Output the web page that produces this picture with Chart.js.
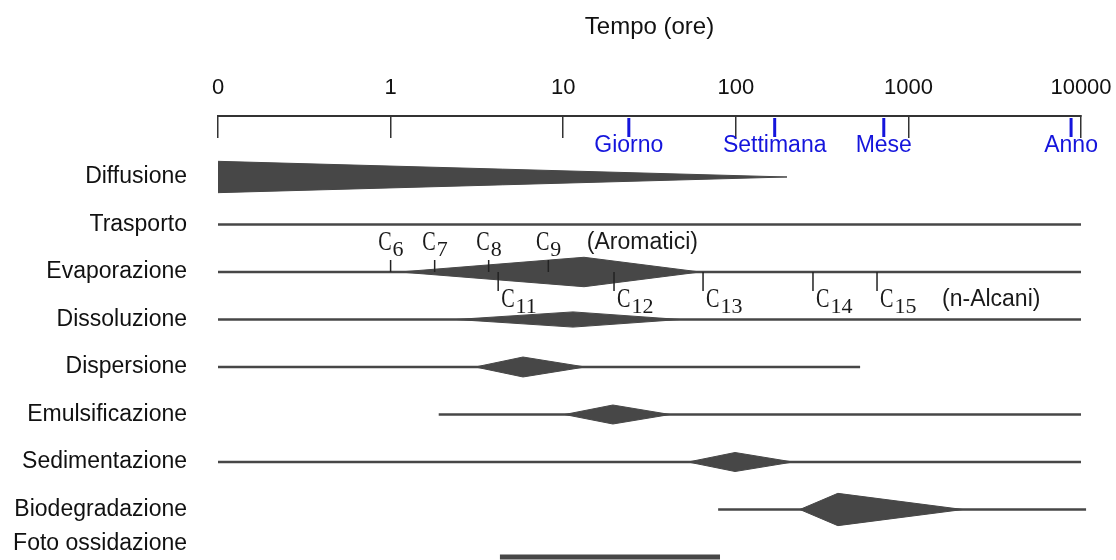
<!DOCTYPE html>
<html>
<head>
<meta charset="utf-8">
<script src="https://cdn.jsdelivr.net/npm/chart.js@4.4.1/dist/chart.umd.min.js"></script>
<style>
  html, body { margin: 0; padding: 0; background: #fff; }
  #wrap { width: 1116px; height: 560px; }
</style>
</head>
<body>
<div id="wrap"><canvas id="chart"></canvas></div>
<script>
// Processi che agiscono su una chiazza di petrolio, tempi in ore (scala log)
const processes = ['Diffusione', 'Trasporto', 'Evaporazione', 'Dissoluzione', 'Dispersione',
  'Emulsificazione', 'Sedimentazione', 'Biodegradazione', 'Foto ossidazione'];

const tickHours = [0.1, 1, 10, 100, 1000, 10000];
const tickLabels = ['0', '1', '10', '100', '1000', '10000'];

const markerHours = [24, 168, 720, 8760];
const markerLabels = ['Giorno', 'Settimana', 'Mese', 'Anno'];

// durata complessiva del processo
const lineStart = [null, 0.1, 0.1, 0.1, 0.1, 1.9, 0.1, 79, 4.3];
const lineEnd = [null, 10000, 10000, 10000, 525, 10000, 10000, 10700, 81];

// fase di massima intensità (fuso)
const peakStart = [0.1, null, 1.13, 2.4, 3.1, 10.2, 53, 235, null];
const peakTime = [0.1, null, 13.2, 11.4, 5.85, 19.4, 99, 390, null];
const peakEnd = [198, null, 62, 47.5, 13.4, 41.6, 214, 2070, null];
const peakIntensity = [0.33, null, 0.31, 0.16, 0.21, 0.2, 0.2, 0.34, null];

// numeri di atomi di carbonio evaporati
const aromaticHours = [1, 1.8, 3.7, 8.2];
const aromaticLabels = ['6', '7', '8', '9'];
const alkaneHours = [4.2, 19.7, 64.6, 280, 658];
const alkaneLabels = ['11', '12', '13', '14', '15'];
const aromaticNoteHour = 13.7;
const alkaneNoteHour = 1566;

const INK = '#474747';
const BLUE = '#1515dc';
const SANS = '"Liberation Sans", Arial, Helvetica, sans-serif';
const SERIF = '"Liberation Serif", "Times New Roman", serif';
Chart.defaults.font.family = SANS;

const evapRow = processes.indexOf('Evaporazione');

const datasets = [];
processes.forEach((name, i) => {
  if (lineStart[i] !== null) {
    datasets.push({
      label: name,
      data: [{ x: lineStart[i], y: i }, { x: lineEnd[i], y: i }],
      borderColor: INK,
      borderWidth: i === processes.length - 1 ? 5 : 2.5,
      showLine: true,
      fill: false,
      clip: false
    });
  }
  if (peakTime[i] !== null) {
    const w = peakIntensity[i];
    const edge = (sign) => {
      const pts = [];
      if (peakStart[i] < peakTime[i]) pts.push({ x: peakStart[i], y: i });
      pts.push({ x: peakTime[i], y: i + sign * w });
      pts.push({ x: peakEnd[i], y: i });
      return pts;
    };
    datasets.push({
      label: name + ' max',
      data: edge(-1),
      borderColor: INK,
      borderWidth: 1,
      backgroundColor: INK,
      showLine: true,
      fill: '+1',
      clip: false
    });
    datasets.push({
      label: name + ' min',
      data: edge(1),
      borderColor: INK,
      borderWidth: 1,
      showLine: true,
      fill: false,
      clip: false
    });
  }
});

// "C" + pedice
function drawCarbon(ctx, px, baseline, sub, above) {
  ctx.save();
  ctx.font = '28px ' + SERIF;
  const cw = ctx.measureText('C').width * 0.72;
  const left = above ? px - cw + 1 : px + 3;
  ctx.translate(left, baseline);
  ctx.scale(0.72, 1);
  ctx.textAlign = 'left';
  ctx.textBaseline = 'alphabetic';
  ctx.fillText('C', 0, 0);
  ctx.restore();
  ctx.save();
  ctx.font = '22px ' + SERIF;
  ctx.textAlign = 'left';
  ctx.textBaseline = 'alphabetic';
  ctx.fillText(sub, left + cw + 1, baseline + 6);
  ctx.restore();
}

const annotations = {
  id: 'annotations',
  afterDatasetsDraw(chart) {
    const { ctx, chartArea, scales: { x, y } } = chart;
    ctx.save();

    // Giorno / Settimana / Mese / Anno
    ctx.strokeStyle = BLUE;
    ctx.fillStyle = BLUE;
    ctx.lineWidth = 3;
    ctx.font = '23px ' + SANS;
    ctx.textAlign = 'center';
    ctx.textBaseline = 'middle';
    markerHours.forEach((h, i) => {
      const px = x.getPixelForValue(h);
      ctx.beginPath();
      ctx.moveTo(px, chartArea.top + 2);
      ctx.lineTo(px, chartArea.top + 21);
      ctx.stroke();
      ctx.fillText(markerLabels[i], px, chartArea.top + 30);
    });

    // tacche dei carboni sull'evaporazione
    const rowY = y.getPixelForValue(evapRow);
    ctx.strokeStyle = '#222';
    ctx.fillStyle = '#1a1a1a';
    ctx.lineWidth = 1.5;
    aromaticHours.forEach((h, i) => {
      const px = x.getPixelForValue(h);
      ctx.beginPath();
      ctx.moveTo(px, rowY - 12);
      ctx.lineTo(px, rowY);
      ctx.stroke();
      drawCarbon(ctx, px, rowY - 22, aromaticLabels[i], true);
    });
    alkaneHours.forEach((h, i) => {
      const px = x.getPixelForValue(h);
      ctx.beginPath();
      ctx.moveTo(px, rowY);
      ctx.lineTo(px, rowY + 19);
      ctx.stroke();
      drawCarbon(ctx, px, rowY + 35, alkaneLabels[i], false);
    });

    ctx.font = '23px ' + SANS;
    ctx.textAlign = 'left';
    ctx.textBaseline = 'middle';
    ctx.fillText('(Aromatici)', x.getPixelForValue(aromaticNoteHour), rowY - 29);
    ctx.fillText('(n-Alcani)', x.getPixelForValue(alkaneNoteHour), rowY + 28);

    ctx.restore();
  }
};

new Chart(document.getElementById('chart'), {
  type: 'scatter',
  data: { datasets },
  options: {
    responsive: true,
    maintainAspectRatio: false,
    animation: false,
    elements: { point: { radius: 0, hoverRadius: 0 }, line: { tension: 0 } },
    layout: { padding: { top: 0, right: 35, bottom: 0, left: 0 } },
    plugins: {
      legend: { display: false },
      tooltip: { enabled: false }
    },
    scales: {
      x: {
        type: 'logarithmic',
        position: 'top',
        min: 0.1,
        max: 10000,
        afterBuildTicks: (s) => { s.ticks = tickHours.map((v) => ({ value: v })); },
        afterFit: (s) => { s.height = 116; s.paddingLeft = 0; s.paddingRight = 0; },
        ticks: {
          autoSkip: false,
          maxRotation: 0,
          padding: 37,
          color: '#111',
          font: { size: 22 },
          callback: (v, i) => tickLabels[i]
        },
        grid: { drawOnChartArea: false, tickLength: -22, color: '#333', lineWidth: 1.5 },
        border: { display: true, color: '#333', width: 2 },
        title: {
          display: true,
          text: 'Tempo (ore)',
          color: '#111',
          font: { size: 24 },
          padding: { top: 13, bottom: 0 }
        }
      },
      y: {
        type: 'linear',
        reverse: true,
        min: -1.284,
        max: 8.063,
        afterBuildTicks: (s) => { s.ticks = processes.map((p, i) => ({ value: i })); },
        afterFit: (s) => { s.width = 218; s.paddingTop = 0; s.paddingBottom = 0; },
        ticks: {
          autoSkip: false,
          padding: 31,
          color: '#111',
          font: { size: 23 },
          callback: (v, i) => (i === processes.length - 1 ? [processes[i], ''] : processes[i])
        },
        grid: { display: false, drawTicks: false },
        border: { display: false }
      }
    }
  },
  plugins: [annotations]
});
</script>
</body>
</html>
